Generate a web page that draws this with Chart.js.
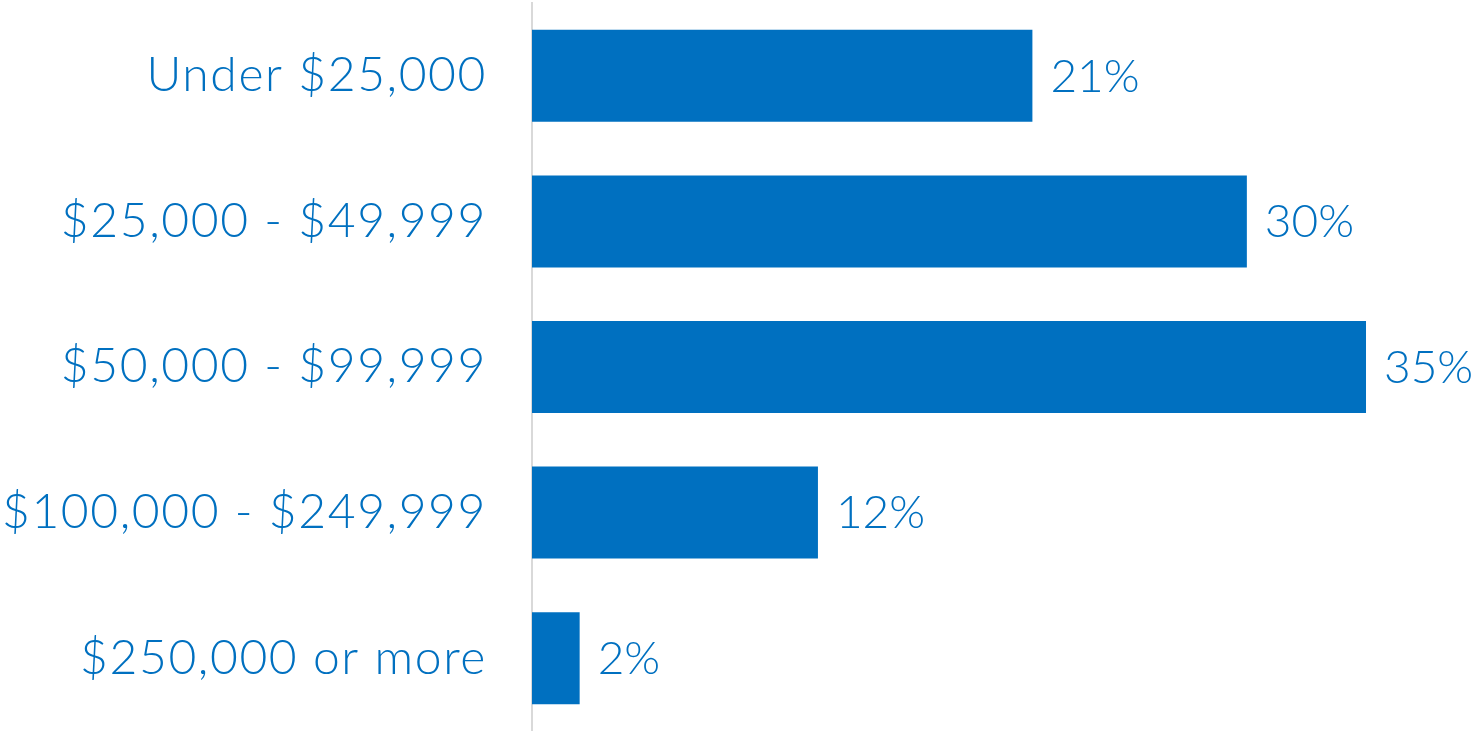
<!DOCTYPE html>
<html>
<head>
<meta charset="utf-8">
<script src="https://cdn.jsdelivr.net/npm/chart.js@4"></script>
<style>
  html, body { margin: 0; padding: 0; background: #fff; }
  #wrap { width: 1478px; height: 731px; }
</style>
</head>
<body>
<div id="wrap"><canvas id="income-chart"></canvas></div>
<script>
var categories = ['Under $25,000', '$25,000 - $49,999', '$50,000 - $99,999', '$100,000 - $249,999', '$250,000 or more'];
var shares = [21, 30, 35, 12, 2];
var valueLabels = ['21%', '30%', '35%', '12%', '2%'];

const blue = '#0070C0';
const fontFamily = 'Lato, "Open Sans", sans-serif';

// a bit of letter spacing so the category labels run as wide as the original
const spacedText = {
    id: 'spacedText',
    beforeDraw: function(chart) {
        chart.ctx.letterSpacing = '1.6px';
    }
};

// draw the percentage to the right of each bar
const barValueLabels = {
    id: 'barValueLabels',
    afterDatasetsDraw: function(chart) {
        var ctx = chart.ctx;
        var meta = chart.getDatasetMeta(0);
        ctx.save();
        ctx.letterSpacing = '0px';
        ctx.font = '300 46px ' + fontFamily;
        ctx.fillStyle = blue;
        ctx.textAlign = 'left';
        ctx.textBaseline = 'middle';
        meta.data.forEach(function(bar, i) {
            ctx.fillText(valueLabels[i], bar.x + 18, bar.y + 1);
        });
        ctx.restore();
    }
};

new Chart(document.getElementById('income-chart'), {
    type: 'bar',
    data: {
        labels: categories,
        datasets: [{
            data: shares,
            backgroundColor: blue,
            borderWidth: 0,
            categoryPercentage: 1,
            barPercentage: 0.632
        }]
    },
    options: {
        indexAxis: 'y',
        responsive: true,
        maintainAspectRatio: false,
        animation: false,
        layout: { padding: { top: 3, right: 0, bottom: 0, left: 0 } },
        plugins: {
            legend: { display: false },
            tooltip: { enabled: false }
        },
        scales: {
            x: {
                display: false,
                min: 0,
                max: 39.7
            },
            y: {
                grid: { display: false, drawTicks: false },
                border: { display: true, color: '#d9d9d9', width: 2 },
                ticks: {
                    color: blue,
                    padding: 45,
                    font: { family: fontFamily, size: 48, weight: 300 }
                },
                afterFit: function(scale) {
                    scale.width = 532;
                    scale.paddingTop = 0;
                    scale.paddingBottom = 0;
                }
            }
        }
    },
    plugins: [spacedText, barValueLabels]
});
</script>
</body>
</html>
